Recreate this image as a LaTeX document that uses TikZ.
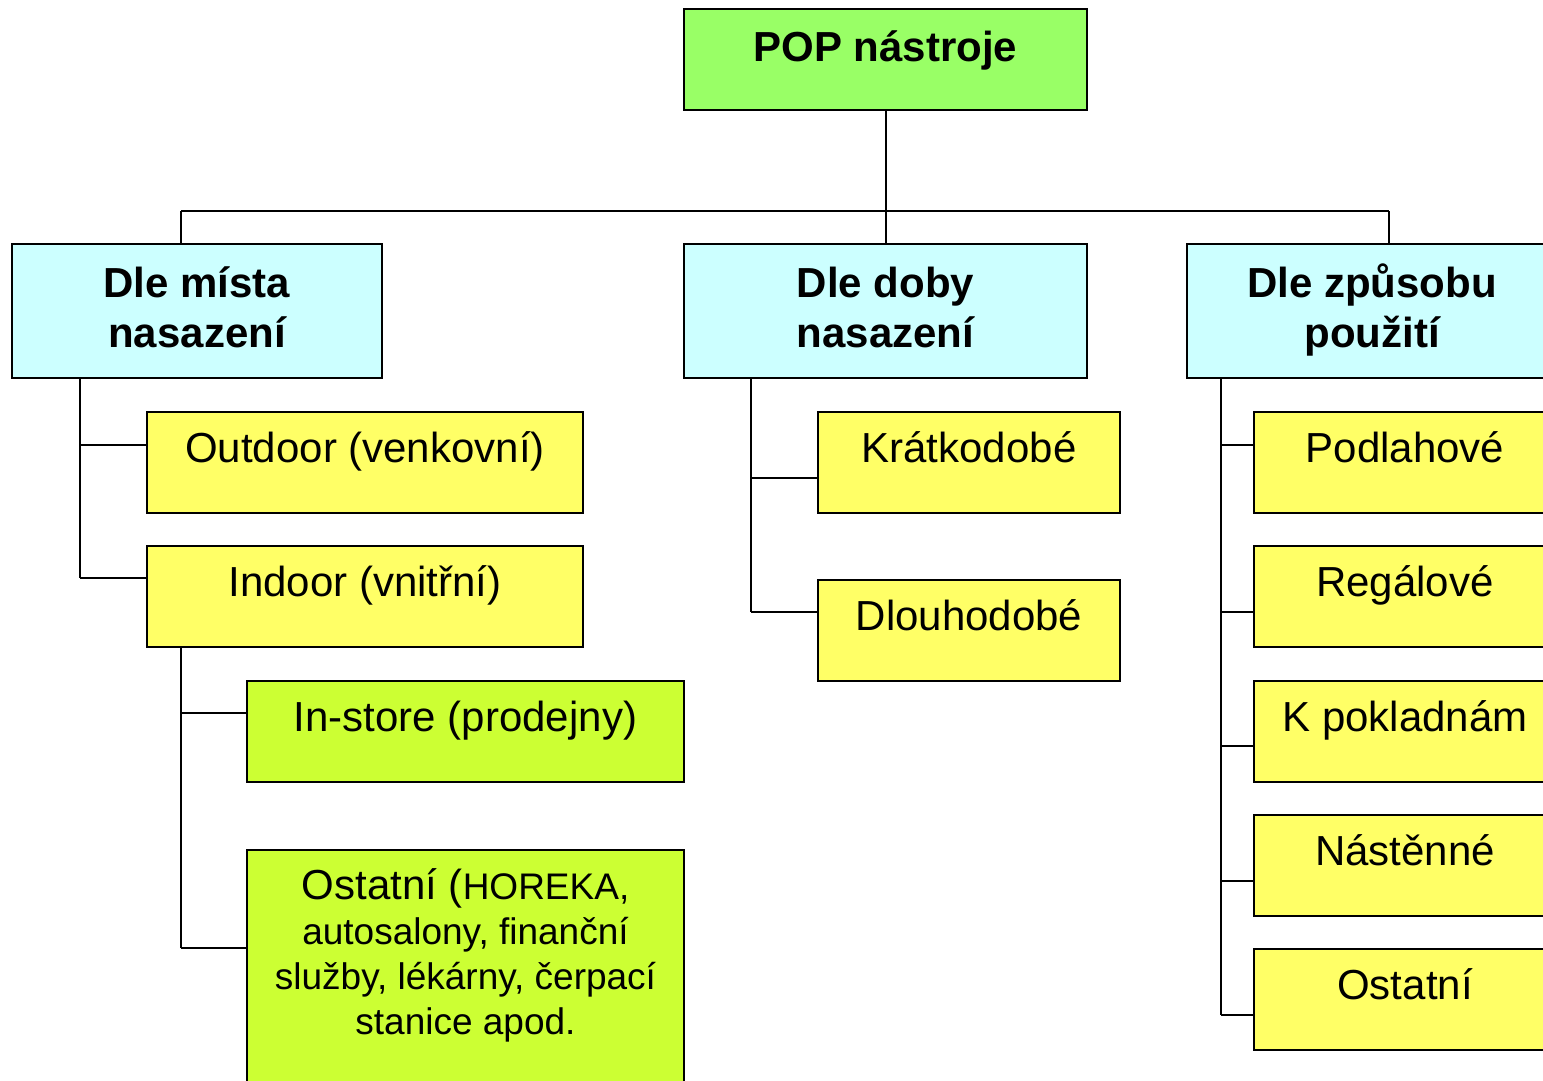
\documentclass[tikz,border=0pt]{standalone}
\usepackage{fontspec}
\setmainfont{Liberation Sans}
\usetikzlibrary{calc}
\definecolor{popgreen}{HTML}{99FF66}
\definecolor{catcyan}{HTML}{CCFFFF}
\definecolor{leafyellow}{HTML}{FFFF66}
\definecolor{sublime}{HTML}{CCFF33}

\begin{document}
\begin{tikzpicture}[x=0.5pt,y=-0.5pt,
  box/.style={draw,line width=1pt,inner sep=0pt,align=center,
    font=\fontsize{21}{25}\selectfont},
  head/.style={box,fill=catcyan,minimum height=67pt,text height=40pt,text depth=4pt,
    font=\bfseries\fontsize{21}{25}\selectfont},
  leaf/.style={box,fill=leafyellow,minimum height=50.5pt,
    text height=8pt,text depth=8pt},
  link/.style={line width=1pt}]
\useasboundingbox (0,0) rectangle (1543,1081);

% root and categories
\node[leaf,fill=popgreen,minimum width=201.5pt,text depth=6pt,
  font=\bfseries\fontsize{21}{25}\selectfont] (pop) at (885.5,59.5) {POP nástroje};
\node[head,minimum width=185pt] (misto) at (197,311) {Dle místa\\nasazení};
\node[head,minimum width=201.5pt] (doba) at (885.5,311) {Dle doby\\nasazení};
\node[head,minimum width=185pt] (zpusob) at (1372,311) {Dle způsobu\\použití};

% dle mista
\node[leaf,minimum width=218pt] (outdoor) at (365,462.5) {Outdoor (venkovní)};
\node[leaf,minimum width=218pt] (indoor) at (365,596.5) {Indoor (vnitřní)};
\node[leaf,fill=sublime,minimum width=218.5pt] (instore) at (465.5,731) {In-store (prodejny)};
\node[box,fill=sublime,minimum width=218.5pt,anchor=north,inner ysep=9.5pt,
  text depth=100pt,font=\fontsize{18.5}{22.5}\selectfont] (jine) at (465.5,849)
  {{\fontsize{21}{25}\selectfont Ostatní (}HOREKA,\\autosalony, finanční\\služby, lékárny, čerpací\\stanice apod.};

% dle doby
\node[leaf,minimum width=151pt] (kratko) at (969,462.5) {Krátkodobé};
\node[leaf,minimum width=151pt] (dlouho) at (969,630.5) {Dlouhodobé};

% dle zpusobu
\node[leaf,minimum width=151pt] (podlaha) at (1405,462.5) {Podlahové};
\node[leaf,minimum width=151pt] (regal) at (1405,596.5) {Regálové};
\node[leaf,minimum width=151pt] (pokladna) at (1405,731) {K pokladnám};
\node[leaf,minimum width=151pt] (stena) at (1405,865) {Nástěnné};
\node[leaf,minimum width=151pt] (ostatni) at (1405,999) {Ostatní};

% connectors
\coordinate (busL) at (181,211);
\coordinate (busR) at (1389,211);
\coordinate (tA) at (80,0);
\coordinate (tI) at (181,0);
\coordinate (tB) at (751,0);
\coordinate (tC) at (1221,0);
\draw[link] (pop.south) -- (doba.north);
\draw[link] (busL) -- (busR);
\draw[link] (busL) -- (busL |- misto.north);
\draw[link] (busR) -- (busR |- zpusob.north);
\foreach \n/\d/\t in {outdoor/34/tA,indoor/33/tA,instore/33/tI,jine/99/tI,
    kratko/67/tB,dlouho/33/tB,podlaha/34/tC,regal/67/tC,pokladna/66/tC,
    stena/67/tC,ostatni/67/tC}
  \draw[link] ($(\n.north west)+(0,\d)$) coordinate (c-\n) -- (c-\n -| \t);
\draw[link] (misto.south -| tA) -- (c-indoor -| tA);
\draw[link] (indoor.south -| tI) -- (c-jine -| tI);
\draw[link] (doba.south -| tB) -- (c-dlouho -| tB);
\draw[link] (zpusob.south -| tC) -- (c-ostatni -| tC);
\end{tikzpicture}
\end{document}
